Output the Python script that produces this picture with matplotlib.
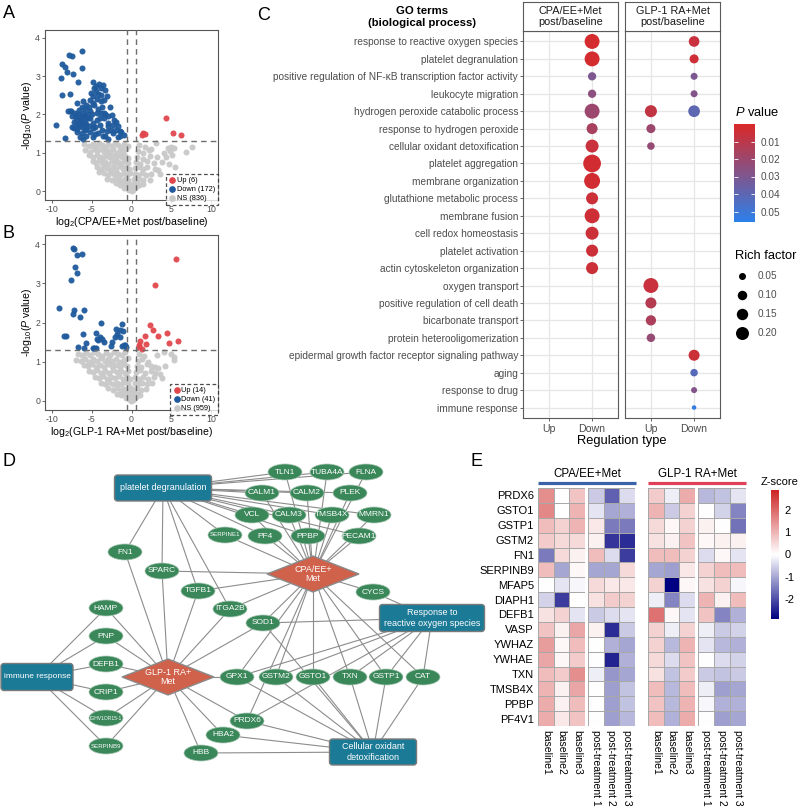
import numpy as np
import matplotlib
matplotlib.use('Agg')
import matplotlib.pyplot as plt
from matplotlib.colors import LinearSegmentedColormap, Normalize
from matplotlib.cm import ScalarMappable
from matplotlib.patches import Ellipse, FancyBboxPatch, Polygon
from matplotlib.lines import Line2D

plt.rcParams['font.family'] = ['Liberation Sans', 'DejaVu Sans']
plt.rcParams['mathtext.fontset'] = 'custom'
plt.rcParams['mathtext.rm'] = 'Liberation Sans'
plt.rcParams['mathtext.it'] = 'Liberation Sans:italic'
plt.rcParams['axes.unicode_minus'] = False

# ---------------- data: volcano plots ----------------
fc_cut = np.log2(1.5)
p_cut = -np.log10(0.05)

a_up = [(1.3, 1.47), (1.5, 1.51), (1.7, 1.5), (4.4, 1.91), (5.2, 1.51), (6.3, 1.47)]
a_down = [
    (-6.2, 3.64), (-7.9, 3.56), (-7.5, 3.53), (-8.8, 3.31), (-8.4, 3.23), (-6.3, 3.2),
    (-8.1, 3.11), (-7.4, 3.05), (-8.9, 2.94), (-6.8, 2.85), (-4.8, 2.85), (-4.1, 2.8),
    (-3.6, 2.77), (-4.5, 2.73), (-3.9, 2.68), (-3.3, 2.64), (-8.7, 2.5), (-7.7, 2.52),
    (-4.8, 2.47), (-4.2, 2.52), (-3.1, 2.47), (-3.5, 2.38), (-5.2, 2.38), (-5.7, 2.25),
    (-4.7, 2.25), (-3.7, 2.2), (-2.7, 2.2), (-6.6, 2.12), (-7.6, 2.08), (-8.0, 2.08),
    (-7.1, 2.05), (-6.1, 2.03), (-5.2, 2.09), (-4.4, 2.05), (-3.5, 2.05), (-2.5, 1.98),
    (-7.0, 1.95), (-6.5, 1.9), (-5.9, 1.95), (-5.2, 1.9), (-4.4, 1.85), (-3.5, 1.9),
    (-1.9, 1.81), (-7.3, 1.81), (-6.7, 1.77), (-6.2, 1.81), (-5.7, 1.74), (-4.8, 1.77),
    (-4.0, 1.72), (-2.9, 1.77), (-2.3, 1.72), (-9.5, 1.72), (-7.5, 1.68), (-6.9, 1.63),
    (-6.3, 1.68), (-5.7, 1.63), (-4.6, 1.66), (-3.7, 1.6), (-3.1, 1.58), (-1.5, 1.58),
    (-6.9, 1.55), (-6.3, 1.51), (-5.2, 1.54), (-4.2, 1.51), (-2.3, 1.51), (-1.3, 1.55),
    (-8.4, 1.39), (-6.1, 1.37), (-4.8, 1.41), (-3.3, 1.43), (-2.9, 1.37), (-1.7, 1.41),
    (-1.0, 1.46), (-7.0, 1.9), (-6.8, 2.0), (-6.4, 1.85), (-6.2, 1.95), (-6.0, 1.75),
    (-5.8, 1.85), (-5.6, 2.0), (-5.5, 1.9), (-5.3, 1.7), (-5.0, 2.0), (-6.6, 1.7),
    (-6.9, 1.75), (-7.2, 1.65), (-5.9, 2.15), (-5.4, 2.2), (-6.3, 2.2), (-4.9, 2.3),
    (-4.5, 2.6), (-4.4, 2.4), (-3.9, 2.5), (-3.8, 2.35), (-4.2, 2.15), (-3.3, 2.0),
    (-2.9, 1.95), (-2.6, 1.6), (-2.0, 1.6), (-1.7, 1.7), (-1.5, 1.45), (-3.6, 1.45),
    (-4.6, 1.5), (-5.7, 1.45), (-6.5, 1.4), (-7.5, 1.95), (-7.8, 2.1), (-6.9, 2.3),
    (-6.1, 2.35), (-5.1, 2.55), (-4.7, 2.7), (-5.8, 1.6), (-4.0, 1.9), (-4.9, 1.65),
    (-3.0, 1.7), (-2.2, 1.85), (-3.9, 2.05),
]
a_ns = [
    (-6.0, 1.22), (-5.4, 1.17), (-4.9, 1.24), (-4.5, 1.19), (-4.1, 1.26), (-3.7, 1.2),
    (-3.3, 1.15), (-2.9, 1.23), (-2.5, 1.18), (-2.1, 1.25), (-1.7, 1.2), (-1.3, 1.16),
    (-0.9, 1.23), (-0.5, 1.19), (1.0, 1.2), (1.7, 1.15), (2.5, 1.1), (3.1, 1.25),
    (4.6, 1.13), (5.0, 1.15), (5.4, 1.12), (7.6, 1.14),
    (-5.8, 1.08), (-5.2, 1.02), (-4.7, 1.1), (-4.3, 1.04), (-3.9, 1.09), (-3.5, 1.01),
    (-3.1, 1.07), (-2.7, 1.03), (-2.3, 1.1), (-1.9, 1.0), (-1.5, 1.06), (-1.1, 1.02),
    (-0.7, 1.09), (0.8, 1.05), (1.4, 1.0), (2.2, 1.07), (4.1, 1.0), (4.9, 1.05),
    (6.9, 1.02), (5.1, 0.95),
    (-5.3, 0.93), (-4.8, 0.88), (-4.4, 0.95), (-4.0, 0.9), (-3.6, 0.86), (-3.2, 0.94),
    (-2.8, 0.89), (-2.4, 0.92), (-2.0, 0.86), (-1.6, 0.93), (-1.2, 0.88), (-0.8, 0.91),
    (-0.4, 0.86), (0.7, 0.9), (1.5, 0.85), (2.3, 0.92), (3.2, 0.88), (4.4, 0.9),
    (-4.9, 0.78), (-4.5, 0.73), (-4.1, 0.8), (-3.7, 0.74), (-3.3, 0.77), (-2.9, 0.71),
    (-2.5, 0.79), (-2.1, 0.74), (-1.7, 0.77), (-1.3, 0.72), (-0.9, 0.78), (-0.5, 0.73),
    (0.6, 0.76), (1.1, 0.72), (1.9, 0.79), (2.8, 0.74), (3.8, 0.77), (4.7, 0.7),
    (-4.4, 0.63), (-3.9, 0.58), (-3.5, 0.64), (-3.1, 0.6), (-2.7, 0.56), (-2.3, 0.63),
    (-1.9, 0.59), (-1.5, 0.65), (-1.1, 0.57), (-0.7, 0.62), (-0.3, 0.58), (0.5, 0.6),
    (0.9, 0.64), (1.4, 0.57), (2.0, 0.62), (2.9, 0.58), (5.5, 0.62), (3.4, 0.55),
    (-4.1, 0.5), (-3.5, 0.47), (-3.0, 0.43), (-2.6, 0.49), (-2.2, 0.44), (-1.8, 0.48),
    (-1.4, 0.42), (-1.0, 0.47), (-0.6, 0.43), (-0.2, 0.48), (0.4, 0.45), (0.8, 0.41),
    (1.3, 0.47), (1.8, 0.43), (2.5, 0.46), (3.6, 0.44),
    (-3.1, 0.33), (-2.5, 0.29), (-2.0, 0.34), (-1.6, 0.3), (-1.2, 0.27), (-0.8, 0.32),
    (-0.4, 0.28), (0.3, 0.31), (0.6, 0.27), (1.0, 0.33), (1.5, 0.29), (2.3, 0.3),
    (-1.9, 0.2), (-1.4, 0.17), (-1.0, 0.21), (-0.6, 0.16), (-0.2, 0.19), (0.2, 0.15),
    (0.5, 0.2), (0.9, 0.17), (1.4, 0.19),
    (-0.9, 0.09), (-0.5, 0.06), (-0.2, 0.1), (0.1, 0.05), (0.3, 0.08), (0.6, 0.11),
    (-0.3, 0.02), (0.0, 0.01), (0.2, 0.03),
]
a_counts = [6, 172, 836]

b_up = [(5.6, 3.61), (3.0, 2.96), (2.3, 1.93), (2.7, 1.81), (3.3, 1.65), (1.7, 1.65),
        (4.5, 1.74), (4.7, 1.49), (5.9, 1.53), (1.1, 1.53), (1.8, 1.46), (1.0, 1.42),
        (0.9, 1.38), (1.3, 1.32)]
b_down = [
    (-7.4, 3.91), (-7.3, 3.87), (-6.3, 3.74), (-6.9, 3.71), (-7.1, 3.42), (-6.9, 3.25),
    (-7.6, 3.08), (-9.1, 2.38), (-7.3, 2.33), (-7.4, 2.21), (-6.0, 2.33), (-6.5, 2.13),
    (-3.9, 1.99), (-1.2, 1.96), (-1.9, 1.83), (-1.5, 1.81), (-1.1, 1.79), (-1.8, 1.71),
    (-2.1, 1.62), (-2.4, 1.51), (-4.5, 1.73), (-4.0, 1.63), (-4.2, 1.55), (-3.7, 1.59),
    (-4.4, 1.57), (-6.1, 1.71), (-5.7, 1.49), (-8.3, 1.65), (-8.5, 1.65), (-6.7, 1.38),
    (-4.9, 1.36), (-4.7, 1.36), (-4.5, 1.36), (-1.0, 1.42), (-0.8, 1.42), (-1.2, 1.39),
    (-0.75, 1.38), (-6.0, 1.36), (-3.5, 1.51), (-1.45, 1.63), (-2.6, 1.4)]
b_ns = [
    (-6.8, 1.2), (-6.2, 1.17), (-5.7, 1.23), (-5.2, 1.18), (-4.7, 1.25), (-4.2, 1.2),
    (-3.7, 1.15), (-3.2, 1.22), (-2.7, 1.18), (-2.2, 1.25), (-1.7, 1.2), (-1.2, 1.16),
    (-0.8, 1.24), (0.9, 1.2), (1.6, 1.15), (3.2, 1.18), (5.0, 1.2), (5.3, 1.12), (4.1, 1.25),
    (-7.0, 1.05), (-6.4, 1.02), (-5.9, 1.08), (-5.4, 1.0), (-4.9, 1.07), (-4.4, 1.03),
    (-3.9, 1.09), (-3.4, 1.01), (-2.9, 1.06), (-2.4, 1.02), (-1.9, 1.08), (-1.4, 1.0),
    (-0.9, 1.05), (-0.5, 1.1), (0.8, 1.02), (1.3, 1.08), (2.1, 1.0), (5.4, 1.04), (2.9, 0.87),
    (-6.0, 0.92), (-5.5, 0.88), (-5.0, 0.93), (-4.5, 0.87), (-4.0, 0.92), (-3.5, 0.86),
    (-3.0, 0.93), (-2.5, 0.88), (-2.0, 0.91), (-1.5, 0.86), (-1.0, 0.93), (-0.6, 0.88),
    (0.7, 0.9), (1.2, 0.86), (1.9, 0.93), (2.5, 0.88), (3.3, 0.85), (4.2, 0.9),
    (-5.3, 0.77), (-4.8, 0.73), (-4.3, 0.78), (-3.8, 0.72), (-3.3, 0.77), (-2.8, 0.71),
    (-2.3, 0.78), (-1.8, 0.73), (-1.3, 0.76), (-0.8, 0.72), (-0.4, 0.77), (0.6, 0.74),
    (1.1, 0.78), (1.7, 0.72), (2.4, 0.76), (3.0, 0.71), (3.6, 0.68),
    (-4.6, 0.62), (-4.1, 0.58), (-3.6, 0.63), (-3.1, 0.57), (-2.6, 0.62), (-2.1, 0.58),
    (-1.6, 0.63), (-1.1, 0.57), (-0.6, 0.61), (-0.2, 0.56), (0.5, 0.6), (1.0, 0.56),
    (1.5, 0.62), (2.1, 0.57), (2.8, 0.61), (3.8, 0.58),
    (-3.8, 0.47), (-3.3, 0.43), (-2.8, 0.48), (-2.3, 0.42), (-1.8, 0.47), (-1.3, 0.43),
    (-0.9, 0.48), (-0.5, 0.42), (0.4, 0.46), (0.8, 0.42), (1.3, 0.47), (1.9, 0.43), (2.6, 0.45),
    (-2.9, 0.32), (-2.3, 0.28), (-1.8, 0.33), (-1.3, 0.29), (-0.9, 0.31), (-0.5, 0.27),
    (-0.1, 0.32), (0.3, 0.28), (0.7, 0.32), (1.2, 0.28), (1.8, 0.31),
    (-1.8, 0.18), (-1.3, 0.15), (-0.9, 0.19), (-0.5, 0.16), (-0.1, 0.2), (0.3, 0.15),
    (0.7, 0.18), (1.1, 0.16),
    (-0.7, 0.07), (-0.3, 0.04), (0.0, 0.08), (0.3, 0.05), (0.6, 0.09), (-0.1, 0.01), (0.2, 0.02),
]
b_counts = [14, 41, 959]

# ---------------- data: GO dot plot ----------------
go_terms = [
    'response to reactive oxygen species', 'platelet degranulation',
    'positive regulation of NF-\u03baB transcription factor activity', 'leukocyte migration',
    'hydrogen peroxide catabolic process', 'response to hydrogen peroxide',
    'cellular oxidant detoxification', 'platelet aggregation', 'membrane organization',
    'glutathione metabolic process', 'membrane fusion', 'cell redox homeostasis',
    'platelet activation', 'actin cytoskeleton organization', 'oxygen transport',
    'positive regulation of cell death', 'bicarbonate transport',
    'protein heterooligomerization', 'epidermal growth factor receptor signaling pathway',
    'aging', 'response to drug', 'immune response',
]
reg_types = ['Up', 'Down']
# (term index, regulation, P value, rich factor)
cpa_go = [
    (0, 'Down', 0.002, 0.27), (1, 'Down', 0.002, 0.27), (2, 'Down', 0.030, 0.074),
    (3, 'Down', 0.025, 0.074), (4, 'Down', 0.020, 0.27), (5, 'Down', 0.016, 0.14),
    (6, 'Down', 0.006, 0.20), (7, 'Down', 0.003, 0.39), (8, 'Down', 0.003, 0.31),
    (9, 'Down', 0.005, 0.17), (10, 'Down', 0.004, 0.27), (11, 'Down', 0.005, 0.20),
    (12, 'Down', 0.005, 0.17), (13, 'Down', 0.005, 0.17),
]
glp_go = [
    (0, 'Down', 0.006, 0.13), (1, 'Down', 0.004, 0.09), (2, 'Down', 0.030, 0.05),
    (3, 'Down', 0.028, 0.05), (4, 'Up', 0.008, 0.17), (4, 'Down', 0.040, 0.16),
    (5, 'Up', 0.020, 0.09), (6, 'Up', 0.022, 0.06), (14, 'Up', 0.006, 0.27),
    (15, 'Up', 0.012, 0.14), (16, 'Up', 0.015, 0.12), (17, 'Up', 0.022, 0.078),
    (18, 'Down', 0.005, 0.14), (19, 'Down', 0.042, 0.059), (20, 'Down', 0.028, 0.035),
    (21, 'Down', 0.054, 0.017),
]
facet_titles = ['CPA/EE+Met\npost/baseline', 'GLP-1 RA+Met\npost/baseline']
p_ticks = [0.01, 0.02, 0.03, 0.04, 0.05]
rf_breaks = [0.05, 0.10, 0.15, 0.20]

# ---------------- data: network ----------------
net_terms = {
    'platelet degranulation': (163, 488, 97, 26),
    'Response to\nreactive oxygen species': (432, 618, 105, 27),
    'immune response': (37, 677, 72, 27),
    'Cellular oxidant\ndetoxification': (373, 752, 87, 26),
}
net_groups = {'CPA/EE+\nMet': (313, 574), 'GLP-1 RA+\nMet': (168, 677)}
net_genes = {
    'TLN1': (285, 472), 'TUBA4A': (327, 472), 'FLNA': (366, 472), 'CALM1': (262, 493),
    'CALM2': (307, 493), 'PLEK': (350, 493), 'VCL': (252, 515), 'CALM3': (289, 515),
    'TMSB4X': (332, 515), 'MMRN1': (374, 515), 'SERPINE1': (225, 535), 'PF4': (265, 536),
    'PPBP': (308, 536), 'PECAM1': (359, 536), 'FN1': (125, 552), 'SPARC': (162, 571),
    'TGFB1': (198, 591), 'CYCS': (373, 592), 'ITGA2B': (230, 609), 'SOD1': (263, 623),
    'HAMP': (106, 608), 'PNP': (106, 636), 'DEFB1': (106, 664), 'CRIP1': (106, 692),
    'IGHV1OR15-1': (106, 718), 'SERPINB9': (106, 746), 'GPX1': (237, 677),
    'GSTM2': (276, 677), 'GSTO1': (313, 677), 'TXN': (350, 677), 'GSTP1': (386, 677),
    'CAT': (423, 677), 'PRDX6': (247, 721), 'HBA2': (223, 735), 'HBB': (201, 753),
}
platelet_genes = ['TLN1', 'TUBA4A', 'FLNA', 'CALM1', 'CALM2', 'PLEK', 'VCL', 'CALM3',
                  'TMSB4X', 'MMRN1', 'SERPINE1', 'PF4', 'PPBP', 'PECAM1']
net_edges = {
    'platelet degranulation': platelet_genes + ['FN1', 'SPARC', 'TGFB1', 'ITGA2B'],
    'CPA/EE+\nMet': platelet_genes + ['SPARC', 'TGFB1', 'ITGA2B', 'SOD1', 'CYCS', 'GPX1',
                                     'GSTM2', 'GSTO1', 'TXN', 'GSTP1', 'CAT', 'PRDX6'],
    'GLP-1 RA+\nMet': ['HAMP', 'PNP', 'DEFB1', 'CRIP1', 'IGHV1OR15-1', 'SERPINB9', 'FN1',
                       'SPARC', 'TGFB1', 'ITGA2B', 'SOD1', 'GPX1', 'PRDX6', 'HBA2', 'HBB'],
    'immune response': ['HAMP', 'PNP', 'DEFB1', 'CRIP1', 'IGHV1OR15-1', 'SERPINB9'],
    'Response to\nreactive oxygen species': ['SOD1', 'CYCS', 'GPX1', 'GSTM2', 'TXN',
                                             'GSTP1', 'CAT', 'PRDX6'],
    'Cellular oxidant\ndetoxification': ['GPX1', 'GSTM2', 'GSTO1', 'TXN', 'GSTP1', 'CAT',
                                         'PRDX6', 'HBA2', 'HBB', 'SOD1'],
}

# ---------------- data: heatmap ----------------
hm_genes = ['PRDX6', 'GSTO1', 'GSTP1', 'GSTM2', 'FN1', 'SERPINB9', 'MFAP5', 'DIAPH1',
            'DEFB1', 'VASP', 'YWHAZ', 'YWHAE', 'TXN', 'TMSB4X', 'PPBP', 'PF4V1']
hm_cols = ['baseline1', 'baseline2', 'baseline3',
           'post-treatment 1', 'post-treatment 2', 'post-treatment 3']
hm_groups = ['CPA/EE+Met', 'GLP-1 RA+Met']
hm_z = np.array([
    [1.5, 0.0, 0.8, -0.6, -1.8, -0.4, 0.7, -0.2, 1.1, -0.8, -0.7, -0.3],
    [1.6, 0.0, 1.0, -0.3, -1.0, -0.9, 1.0, -0.6, 0.6, 0.0, -0.5, -1.4],
    [0.9, 0.6, 1.0, 0.3, -1.5, -1.5, 0.5, 0.1, 0.6, 0.2, 0.0, -1.6],
    [0.7, 0.5, 0.5, 0.2, -2.3, -2.4, 0.4, 0.2, 0.8, 0.1, 0.2, 0.2],
    [-1.5, 0.5, 0.2, 0.9, -0.4, -2.2, 0.9, 0.9, 0.6, -0.4, 0.1, -0.3],
    [0.9, -1.0, 0.1, -1.0, -1.0, 0.5, -1.0, -1.1, 0.3, 0.6, 0.9, 0.9],
    [0.0, -0.3, -0.1, 0.5, 0.3, 0.3, 0.6, -2.9, 0.1, 0.4, 0.6, -0.1],
    [-0.5, -2.2, 0.0, 0.4, 0.7, 0.6, -0.2, -1.4, -0.4, 1.0, 0.2, 0.9],
    [0.4, 0.6, -0.3, -0.6, -0.4, -0.3, 1.9, 0.1, -0.3, 0.8, -1.4, -0.9],
    [0.8, 0.2, 1.2, 0.2, -2.4, -0.6, 0.6, -0.2, 0.6, -0.2, -0.6, -0.5],
    [1.3, 0.1, 0.9, 0.0, -0.9, -1.0, 0.6, -0.8, 1.0, -0.3, -0.8, -0.9],
    [1.2, 0.1, 0.7, 0.0, -2.5, -0.9, 0.5, -0.4, 0.8, 0.0, -0.4, -0.5],
    [0.9, 0.7, 1.5, -0.2, -1.2, -1.0, 0.4, -0.7, 0.7, -0.6, -0.7, -0.6],
    [1.0, 0.2, 1.2, 0.0, -1.1, -0.7, 0.9, -0.8, 0.9, -0.2, -1.1, -1.0],
    [1.1, 0.2, 0.9, 0.0, -1.1, -0.7, 0.8, -0.8, 1.0, -0.1, -0.9, -0.9],
    [1.1, 0.3, 0.8, 0.0, -1.1, -0.8, 0.9, -0.9, 1.1, 0.0, -1.1, -1.0],
])

# ---------------- style ----------------
RED, BLUE, GREY = '#E0474C', '#1F5A9C', '#C9C9C9'
TXT = '#4D4D4D'
W, H = 800, 808


def px(x0, y0, x1, y1):
    return [x0 / W, 1 - y1 / H, (x1 - x0) / W, (y1 - y0) / H]


fig = plt.figure(figsize=(8, 8.08), dpi=100)
ov = fig.add_axes([0, 0, 1, 1])
ov.set_xlim(0, W)
ov.set_ylim(H, 0)
ov.axis('off')

for lab, x, y in [('A', 3, 14), ('B', 3, 234), ('C', 257, 15), ('D', 2, 462), ('E', 470, 462)]:
    ov.text(x, y, lab, fontsize=13, va='center', ha='left')


# ---------------- A / B volcano ----------------
def volcano(ax, up, down, ns, counts, xlab):
    for pts, c in [(ns, GREY), (down, BLUE), (up, RED)]:
        xs, ys = zip(*pts)
        ax.scatter(xs, ys, s=19, color=c, lw=0, alpha=0.95, zorder=2)
    for v in (-fc_cut, fc_cut):
        ax.axvline(v, color='#6E6E6E', lw=1.0, ls=(0, (4, 3)), zorder=3)
    ax.axhline(p_cut, color='#6E6E6E', lw=1.0, ls=(0, (4, 3)), zorder=3)
    ax.set_xlim(-10.9, 10.9)
    ax.set_ylim(-0.23, 4.2)
    ax.set_xticks([-10, -5, 0, 5, 10])
    ax.set_yticks([0, 1, 2, 3, 4])
    ax.tick_params(labelsize=6.3, length=2, width=0.6, colors=TXT, pad=1.5)
    for s in ax.spines.values():
        s.set_color('#555555')
        s.set_linewidth(0.8)
    ax.set_xlabel(xlab, fontsize=7.6, labelpad=1)
    ax.set_ylabel(r'-log$_{10}$($\it{P}$ value)', fontsize=7.6, labelpad=1)
    handles = [Line2D([], [], marker='o', ls='', color=c, markersize=3.8, label=f'{n} ({k})')
               for c, n, k in zip([RED, BLUE, GREY], ['Up', 'Down', 'NS'], counts)]
    leg = ax.legend(handles=handles, loc='lower right', bbox_to_anchor=(1.0, -0.03),
                    fontsize=5.3, frameon=True, fancybox=False, handletextpad=0.1,
                    borderpad=0.4, labelspacing=0.25, handlelength=1.0, borderaxespad=0)
    fr = leg.get_frame()
    fr.set_edgecolor('#222222')
    fr.set_linestyle((0, (3, 2)))
    fr.set_linewidth(0.9)


ax_a = fig.add_axes(px(45, 30, 218, 200))
volcano(ax_a, a_up, a_down, a_ns, a_counts, r'log$_2$(CPA/EE+Met post/baseline)')
ax_b = fig.add_axes(px(45, 235, 218, 410))
volcano(ax_b, b_up, b_down, b_ns, b_counts, r'log$_2$(GLP-1 RA+Met post/baseline)')
ax_b.set_ylim(-0.23, 4.23)

# ---------------- C GO dot plot ----------------
pcmap = LinearSegmentedColormap.from_list('pv', ['#DA2828', '#2C80EA'])
pnorm = Normalize(0.0, 0.056)


def rf_size(rf):
    d = 1 + 26.8 * np.sqrt(np.asarray(rf))
    return (d * 0.72) ** 2


facet_x = [(523, 618), (625, 720)]
for k, (pts, title, (x0, x1)) in enumerate(zip([cpa_go, glp_go], facet_titles, facet_x)):
    ax = fig.add_axes(px(x0, 31, x1, 418))
    ti, rg, pv, rf = zip(*pts)
    xs = [reg_types.index(r) + 1 for r in rg]
    ys = [t + 1 for t in ti]
    ax.scatter(xs, ys, s=rf_size(rf), c=pv, cmap=pcmap, norm=pnorm, lw=0, zorder=3)
    ax.set_xlim(0.4, 2.6)
    ax.set_ylim(len(go_terms) + 0.6, 0.4)
    ax.set_xticks([1, 2], reg_types)
    ax.set_yticks(range(1, len(go_terms) + 1))
    ax.grid(True, color='#E6E6E6', lw=0.9)
    ax.set_axisbelow(True)
    ax.tick_params(axis='x', labelsize=7.6, colors=TXT, length=2, width=0.6, pad=2)
    if k == 0:
        ax.set_yticklabels(go_terms)
        ax.tick_params(axis='y', labelsize=7.3, colors=TXT, length=2, width=0.6, pad=1.5)
    else:
        ax.tick_params(axis='y', left=False, labelleft=False)
    for s in ax.spines.values():
        s.set_color('#5A5A5A')
        s.set_linewidth(0.8)
    st = fig.add_axes(px(x0, 2, x1, 31))
    st.set_xticks([])
    st.set_yticks([])
    for s in st.spines.values():
        s.set_color('#5A5A5A')
        s.set_linewidth(0.8)
    st.text(0.5, 0.5, title, ha='center', va='center', fontsize=7.8, color='#1A1A1A',
            transform=st.transAxes, linespacing=1.1)

ov.text(422, 17, 'GO terms\n(biological process)', ha='center', va='center',
        fontsize=8.2, fontweight='bold', linespacing=1.15)
ov.text(622, 441, 'Regulation type', ha='center', va='center', fontsize=9.3)

cax = fig.add_axes(px(734, 124, 755, 222))
cb = fig.colorbar(ScalarMappable(pnorm, pcmap), cax=cax, ticks=p_ticks)
cb.outline.set_visible(False)
cax.set_ylim(0.056, 0.0)
cax.tick_params(direction='in', color='white', length=3, width=0.6, left=True, right=True,
                labelsize=7.2, labelcolor=TXT, pad=4)
cax.set_yticklabels([f'{t:.2f}' for t in p_ticks])
ov.text(735, 113, r'$\it{P}$ value', fontsize=9.3, ha='left', va='center')

ov.text(735, 256, 'Rich factor', fontsize=9.3, ha='left', va='center')
for i, rf in enumerate(rf_breaks):
    yy = 276 + i * 19
    ov.scatter([742], [yy], s=rf_size(rf), color='black', lw=0)
    ov.text(758, yy, f'{rf:.2f}', fontsize=7.2, color=TXT, va='center', ha='left')

# ---------------- D network ----------------
allpos = {**{k: v[:2] for k, v in net_terms.items()}, **net_groups, **net_genes}
for src, targets in net_edges.items():
    x1, y1 = allpos[src]
    for t in targets:
        x2, y2 = allpos[t]
        ov.plot([x1, x2], [y1, y2], color='#8C8C8C', lw=0.8, zorder=1)
for g, (x, y) in net_genes.items():
    small = g in ('IGHV1OR15-1', 'SERPINB9', 'SERPINE1')
    ov.add_patch(Ellipse((x, y), 34, 16, fc='#3A875A', ec='#A9C7B3', lw=0.5, zorder=3))
    ov.text(x, y, g, color='white', fontsize=3.6 if g == 'IGHV1OR15-1' else (4.4 if small else 6),
            ha='center', va='center', zorder=4)
for name, (x, y) in net_groups.items():
    ov.add_patch(Polygon([(x - 46, y), (x, y - 18), (x + 46, y), (x, y + 18)],
                         closed=True, fc='#D0614B', ec='#8A8A8A', lw=1, zorder=3))
    ov.text(x, y, name, color='white', fontsize=6.5, ha='center', va='center',
            linespacing=1.05, zorder=4)
for name, (x, y, w, h) in net_terms.items():
    ov.add_patch(FancyBboxPatch((x - w / 2, y - h / 2), w, h,
                                boxstyle='round,pad=0,rounding_size=3',
                                fc='#1B7A96', ec='#7A7A7A', lw=1, zorder=3))
    ov.text(x, y, name, color='white', fontsize=6.0 if w < 80 else 6.5, ha='center',
            va='center', linespacing=1.15, zorder=4)

# ---------------- E heatmap ----------------
zcmap = LinearSegmentedColormap.from_list('z', ['#000080', '#FFFFFF', '#CD2626'])
znorm = Normalize(-2.9, 2.9)
blocks = [(538, 585), (588, 635), (648, 695), (698, 746)]
for k, (x0, x1) in enumerate(blocks):
    ax = fig.add_axes(px(x0, 488, x1, 726))
    ax.pcolormesh(hm_z[:, 3 * k:3 * k + 3], cmap=zcmap, norm=znorm,
                  edgecolors='#A8A8A8', linewidth=0.7)
    ax.set_xlim(0, 3)
    ax.set_ylim(len(hm_genes), 0)
    ax.set_xticks(np.arange(3) + 0.5, hm_cols[3 * (k % 2):3 * (k % 2) + 3], rotation=270)
    ax.tick_params(axis='x', length=0, labelsize=7.5, pad=3)
    if k == 0:
        ax.set_yticks(np.arange(len(hm_genes)) + 0.5, hm_genes)
        ax.tick_params(axis='y', length=0, labelsize=8, pad=3)
    else:
        ax.set_yticks([])
    for s in ax.spines.values():
        s.set_visible(False)

for name, (x0, x1), col in zip(hm_groups, [(538, 636), (648, 746)], ['#3A62A8', '#E0405A']):
    ov.text((x0 + x1) / 2, 474, name, ha='center', va='center', fontsize=8.3)
    ov.plot([x0, x1], [483, 483], color=col, lw=2.3, solid_capstyle='butt')

zax = fig.add_axes(px(771, 490, 779, 619))
zcb = fig.colorbar(ScalarMappable(znorm, zcmap), cax=zax, ticks=[-2, -1, 0, 1, 2])
zcb.outline.set_visible(False)
zax.tick_params(length=0, labelsize=8, pad=4)
ov.text(780, 482, 'Z-score', ha='center', va='center', fontsize=8)

fig.savefig('out.png', dpi=100)
